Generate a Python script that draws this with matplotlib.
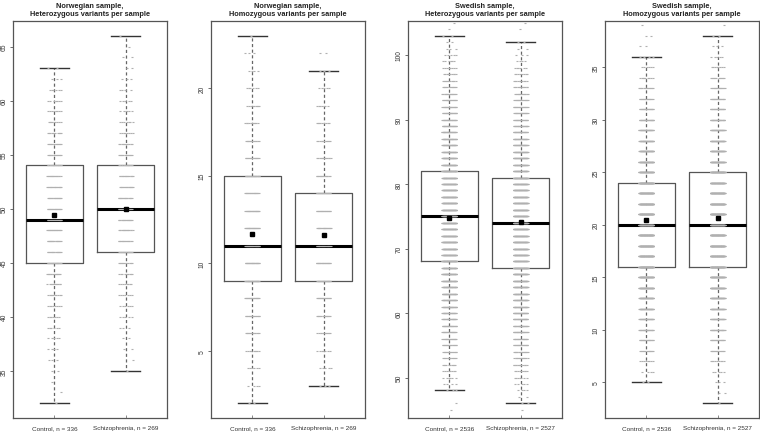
import numpy as np
import matplotlib
matplotlib.use("Agg")
import matplotlib.pyplot as plt

plt.rcParams["font.family"] = ["Liberation Sans", "DejaVu Sans"]

# ---------------------------------------------------------------------------
# Data
# ---------------------------------------------------------------------------
titles = [
    "Norwegian sample,\nHeterozygous variants per sample",
    "Norwegian sample,\nHomozygous variants per sample",
    "Swedish sample,\nHeterozygous variants per sample",
    "Swedish sample,\nHomozygous variants per sample",
]
group_names = ["Control", "Schizophrenia"]
n_samples = [[336, 269], [336, 269], [2536, 2527], [2536, 2527]]

whislo = [[32, 35], [2, 3], [48, 46], [5, 3]]
q1 = [[45, 46], [9, 9], [68, 67], [16, 16]]
med = [[49, 50], [11, 11], [75, 74], [20, 20]]
q3 = [[54, 54], [15, 14], [82, 81], [24, 25]]
whishi = [[63, 66], [23, 21], [103, 102], [36, 38]]
means = [[49.4, 50.0], [11.7, 11.6], [74.7, 74.1], [20.5, 20.6]]

yticks = [
    [35, 40, 45, 50, 55, 60, 65],
    [5, 10, 15, 20],
    [50, 60, 70, 80, 90, 100],
    [5, 10, 15, 20, 25, 30, 35],
]

# per-value counts of samples (first value, counts for consecutive integers)
nor_het_ctrl_start = 32
nor_het_ctrl_counts = [1, 1, 1, 2, 3, 4, 5, 6, 7, 8, 10, 12, 15, 17, 18, 19,
                       21, 22, 21, 19, 18, 17, 16, 14, 13, 11, 9, 8, 7, 6, 3, 2]
nor_het_scz_start = 35
nor_het_scz_counts = [1, 1, 2, 2, 3, 5, 6, 7, 8, 10, 12, 14, 16, 17, 18, 19,
                      18, 17, 16, 14, 13, 11, 8, 7, 6, 5, 4, 3, 2, 2, 1, 1]

nor_hom_ctrl_start = 2
nor_hom_ctrl_counts = [2, 4, 6, 9, 14, 18, 24, 28, 32, 34, 30, 27, 23, 20,
                       17, 14, 11, 9, 6, 4, 3, 1]
nor_hom_scz_start = 3
nor_hom_scz_counts = [3, 5, 7, 11, 15, 20, 23, 26, 26, 24, 22, 21, 16, 13,
                      11, 9, 7, 5, 3, 2]

swe_het_ctrl_start = 45
swe_het_ctrl_counts = [1, 1, 0, 3, 4, 6, 8, 10, 13, 16,
                       20, 24, 28, 33, 38, 43, 48, 53, 58, 63,
                       68, 72, 76, 80, 83, 86, 88, 89, 90, 90,
                       90, 89, 88, 86, 83, 80, 76, 72, 68, 63,
                       58, 53, 48, 44, 39, 34, 30, 26, 22, 18,
                       15, 12, 10, 8, 6, 5, 3, 2, 2, 1, 1]
swe_het_scz_start = 45
swe_het_scz_counts = [1, 2, 2, 4, 5, 7, 9, 12, 15, 19,
                      23, 27, 32, 37, 42, 47, 52, 57, 62, 67,
                      71, 75, 79, 82, 85, 88, 90, 91, 92, 92,
                      91, 89, 87, 84, 81, 77, 73, 68, 64, 59,
                      54, 49, 44, 39, 35, 30, 26, 22, 19, 15,
                      12, 10, 8, 6, 4, 3, 2, 2, 0, 1, 1]

swe_hom_ctrl_start = 5
swe_hom_ctrl_counts = [2, 4, 8, 14, 24, 35, 50, 68, 88, 108,
                       127, 143, 156, 165, 170, 172, 168, 160, 148, 133,
                       116, 99, 82, 66, 52, 40, 29, 20, 14, 9,
                       6, 4, 2, 2, 1]
swe_hom_scz_start = 3
swe_hom_scz_counts = [1, 2, 3, 5, 9, 15, 24, 36, 50, 66, 85, 104, 122, 139,
                      152, 161, 166, 167, 163, 156, 145, 131, 116, 100, 84,
                      69, 55, 44, 33, 25, 18, 12, 8, 5, 3, 2, 1]

counts = [
    [(nor_het_ctrl_start, nor_het_ctrl_counts), (nor_het_scz_start, nor_het_scz_counts)],
    [(nor_hom_ctrl_start, nor_hom_ctrl_counts), (nor_hom_scz_start, nor_hom_scz_counts)],
    [(swe_het_ctrl_start, swe_het_ctrl_counts), (swe_het_scz_start, swe_het_scz_counts)],
    [(swe_hom_ctrl_start, swe_hom_ctrl_counts), (swe_hom_scz_start, swe_hom_scz_counts)],
]

# ---------------------------------------------------------------------------
# Style
# ---------------------------------------------------------------------------
W, H = 760, 435
LINE = "#555555"
POINT = "#b0b0b0"
JIT = 0.1
panel_left = [13, 211, 408, 605]   # px
ax_w, ax_top, ax_bot = 154, 22, 419


def strip_points(start, cnts, pos):
    """Spread each integer value's samples across the jitter band."""
    xs, ys = [], []
    for i, c in enumerate(cnts):
        for k in range(c):
            frac = ((k + 1) * 0.6180339 + i * 0.37) % 1.0
            xs.append(pos - JIT + 2 * JIT * frac)
            ys.append(start + i)
    return np.array(xs), np.array(ys)


fig = plt.figure(figsize=(W / 100, H / 100), dpi=100)

for p in range(4):
    ax = fig.add_axes([panel_left[p] / W, (H - ax_bot) / H,
                       ax_w / W, (ax_bot - ax_top) / H])

    stats = []
    for g in range(2):
        stats.append(dict(whislo=whislo[p][g], q1=q1[p][g], med=med[p][g],
                          q3=q3[p][g], whishi=whishi[p][g], fliers=[]))
    ax.bxp(stats, positions=[1, 2], widths=0.8, showfliers=False,
           manage_ticks=False,
           boxprops=dict(color=LINE, lw=0.9),
           whiskerprops=dict(color="#666666", lw=0.9, linestyle=(0, (2.5, 2))),
           capprops=dict(color="#333333", lw=1.0),
           medianprops=dict(color="black", lw=2.2, solid_capstyle="butt"))

    for g in range(2):
        start, cnts = counts[p][g]
        xs, ys = strip_points(start, cnts, g + 1)
        ax.plot(xs, ys, ls="none", marker="_", ms=1.1, mew=0.8,
                color=POINT, zorder=4)
        ax.plot([g + 1], [means[p][g]], ls="none", marker="s", ms=3.2,
                color="black", zorder=5)

    lo = min(whislo[p])
    hi = max(whishi[p])
    r = hi - lo
    ax.set_ylim(lo - 0.04 * r, hi + 0.04 * r)
    ax.set_xlim(0.42, 2.58)

    ax.set_yticks(yticks[p])
    ax.set_yticklabels([str(v) for v in yticks[p]], rotation=90,
                       va="center", fontsize=4.8, color="#333333")
    ax.set_xticks([1, 2])
    ax.set_xticklabels([f"{group_names[g]}, n = {n_samples[p][g]}"
                        for g in range(2)], fontsize=4.6, color="#333333")
    ax.tick_params(axis="y", direction="out", length=2.5, width=0.6,
                   pad=1.5, colors="#555555", labelcolor="#333333")
    ax.tick_params(axis="x", direction="in", length=2.5, width=0.6,
                   pad=5, colors="#777777", labelcolor="#333333")
    for s in ax.spines.values():
        s.set_color(LINE)
        s.set_linewidth(0.9)

    ax.set_title(titles[p], fontsize=5.3, fontweight="bold",
                 color="#222222", pad=4, linespacing=1.25)

fig.savefig("out.png", dpi=100)
